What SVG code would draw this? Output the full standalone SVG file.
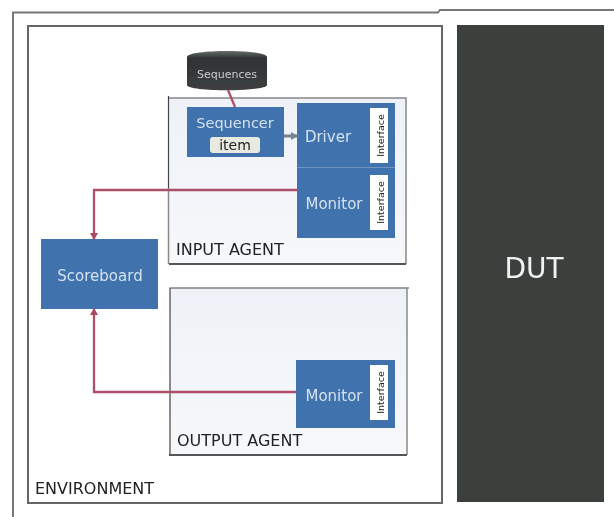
<svg xmlns="http://www.w3.org/2000/svg" width="614" height="517" viewBox="0 0 614 517">
<defs>
<marker id="arr" markerWidth="9" markerHeight="9" refX="6" refY="4" orient="auto" markerUnits="userSpaceOnUse"><path d="M0 0L7 4L0 8z" fill="#a8475f"/></marker>
<marker id="gr" markerWidth="9" markerHeight="9" refX="6" refY="4" orient="auto" markerUnits="userSpaceOnUse"><path d="M0 0L7 4L0 8z" fill="#74848f"/></marker>
<linearGradient id="cyl" x1="0" x2="0" y1="0" y2="1"><stop offset="0" stop-color="#6a6d6d"/><stop offset=".18" stop-color="#2f3334"/><stop offset="1" stop-color="#3c3f40"/></linearGradient>
<linearGradient id="ag" x1="0" x2="0" y1="0" y2="1"><stop offset="0" stop-color="#eef2f8"/><stop offset="1" stop-color="#f6f8fa"/></linearGradient>
<filter id="soft" filterUnits="userSpaceOnUse" x="0" y="0" width="614" height="517"><feGaussianBlur stdDeviation="0.45"/></filter>
</defs>
<style>
.blue{fill:#3f73ad}
.agent{fill:url(#ag)}
.dark{fill:none;stroke:#444;stroke-width:1.2}
.edge{fill:none;stroke:#888;stroke-width:1.5}
.base{fill:none;stroke:#555;stroke-width:2}
.lab{font-family:"DejaVu Sans",sans-serif;font-size:16px;fill:#222}
.w{font-family:"DejaVu Sans",sans-serif;fill:#d5e2ee;text-anchor:middle}
.if{fill:#fff}
.ift{font-family:"DejaVu Sans",sans-serif;font-size:9.500px;fill:#222;text-anchor:middle}
.conn{fill:none;stroke:#ad5068;stroke-width:2.300}
</style>
<rect width="614" height="517" fill="#fff"/>
<g filter="url(#soft)">
<path d="M13 517V12.500H438L440 10H614" fill="none" stroke="#777" stroke-width="2"/>
<g id="environment"><rect x="28" y="26" width="414" height="477" fill="#fff" stroke="#666" stroke-width="2"/><text class="lab" x="35" y="494">ENVIRONMENT</text></g>
<g id="dut"><rect x="457" y="25" width="147" height="477" fill="#3a3f3e"/><text x="534" y="278" text-anchor="middle" font-family="DejaVu Sans,sans-serif" font-size="28" fill="#f2f2f2">DUT</text></g>
<g id="input-agent"><rect class="agent" x="169" y="98" width="237" height="166"/><path class="dark" d="M168.500 96V188"/><path class="edge" d="M168.500 188V264M169 98H406V264"/><path class="base" d="M169 264H406"/><text class="lab" x="176" y="255">INPUT AGENT</text></g>
<g id="output-agent"><rect class="agent" x="170" y="288" width="237" height="167"/><path class="dark" d="M170 455V288H409"/><path class="edge" d="M407 288V455"/><path class="base" d="M169 455H407"/><text class="lab" x="177" y="446">OUTPUT AGENT</text></g>
<g id="sequences"><path d="M187 57C187 49 267 49 267 57V85C267 92 187 92 187 85z" fill="url(#cyl)"/><text x="227" y="78" text-anchor="middle" font-family="DejaVu Sans,sans-serif" font-size="11" fill="#ccc">Sequences</text></g>
<g id="sequencer"><rect class="blue" x="187" y="107" width="97" height="50"/><text class="w" x="235" y="128" font-size="14.500">Sequencer</text><rect x="210" y="137" width="50" height="16" rx="3" fill="#e8eadf"/><text x="235" y="150" text-anchor="middle" font-family="DejaVu Sans,sans-serif" font-size="14" fill="#222">item</text></g>
<g id="driver"><rect class="blue" x="297" y="103" width="98" height="65"/><text class="w" x="328" y="142" font-size="15">Driver</text><rect class="if" x="370" y="108" width="18" height="55"/><text class="ift" transform="translate(384,135.500) rotate(-90)">Interface</text></g>
<g id="monitor-in"><rect class="blue" x="297" y="168" width="98" height="70"/><path d="M297 167.500H395" stroke="#6f95bf" stroke-width="1"/><text class="w" x="334" y="209" font-size="15">Monitor</text><rect class="if" x="370" y="175" width="18" height="55"/><text class="ift" transform="translate(384,202.500) rotate(-90)">Interface</text></g>
<g id="scoreboard"><rect class="blue" x="41" y="239" width="117" height="70"/><text class="w" x="100" y="281" font-size="15">Scoreboard</text></g>
<g id="monitor-out"><rect class="blue" x="296" y="360" width="99" height="68"/><text class="w" x="334" y="401" font-size="15">Monitor</text><rect class="if" x="370" y="365" width="18" height="55"/><text class="ift" transform="translate(384,392.500) rotate(-90)">Interface</text></g>
<g id="connectors">
<path class="conn" d="M228 90L235 107"/>
<path d="M284 136H297" fill="none" stroke="#74848f" stroke-width="3" marker-end="url(#gr)"/>
<path class="conn" d="M297 190H94V239" marker-end="url(#arr)"/>
<path class="conn" d="M296 392H94V309" marker-end="url(#arr)"/>
</g>
</g>
</svg>
